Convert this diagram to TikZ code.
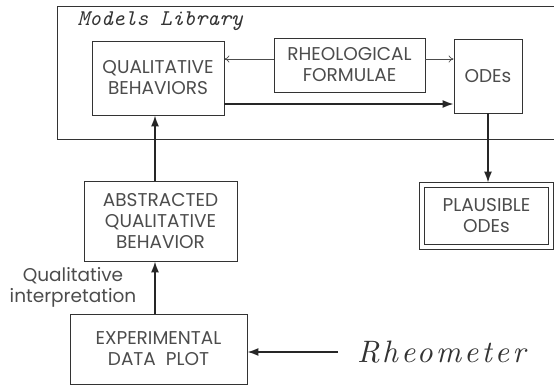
\documentclass[tikz,border=0pt]{standalone}
\usepackage{fontspec}
\newfontfamily\boxfont{Poppins}
\newfontfamily\rheofont[LetterSpace=10]{lmroman10-italic.otf}
\usetikzlibrary{arrows.meta}

\tikzset{
  box/.style={draw=black!80, line width=0.8pt, align=center, inner sep=0pt,
    text=black!70, font=\boxfont\fontsize{18.5}{21}\selectfont},
  thinarrow/.style={draw=black!70, line width=0.7pt, -{To[length=5pt,width=7pt]}},
  thickarrow/.style={draw=black!85, line width=1.6pt, -{Latex[length=11pt,width=8pt]}}
}

\begin{document}
\begin{tikzpicture}[x=1pt, y=-1pt]
  \useasboundingbox (0,0) rectangle (554,386);
  % Models library
  \draw [black!80, line width=0.8pt] (57,6) rectangle (570,139);
  \node [anchor=base west, text=black!80,
    font=\ttfamily\itshape\fontsize{22.5}{24}\selectfont] (libtitle) at (74,25) {Models Library};
  \node [box, minimum width=132, minimum height=74] (qb) at (158,78) {QUALITATIVE\\BEHAVIORS};
  \node [box, minimum width=151, minimum height=54] (rheo) at (349.5,65) {RHEOLOGICAL\\FORMULAE};
  \node [box, minimum width=68, minimum height=74] (odes) at (488,76) {ODEs};
  % outside the library
  \node [box, minimum width=124, minimum height=57] (plaus) at (486.5,216) {PLAUSIBLE\\ODEs};
  \draw [black!80, line width=0.8pt] ([shift={(-4.5pt,4.5pt)}]plaus.north west) rectangle ([shift={(4.5pt,-4.5pt)}]plaus.south east);
  \node [box, minimum width=153, minimum height=80] (abs) at (160.5,221) {ABSTRACTED\\QUALITATIVE\\BEHAVIOR};
  \node [box, minimum width=177, minimum height=70] (exp) at (158.5,349) {EXPERIMENTAL\\DATA\ \ PLOT};
  \node [align=center, text=black!70, font=\boxfont\fontsize{18.5}{21}\selectfont] (interp) at (73,287) {Qualitative\\interpretation};
  \node [anchor=west, inner sep=0pt, text=black!80,
    font=\rheofont\fontsize{31}{33}\selectfont] (rheometer) at (357,352) {Rheometer};
  \coordinate (spine) at (155,0);
  % arrows
  \draw [thinarrow] ([yshift=6pt]rheo.west) -- ([yshift=6pt]rheo.west -| qb.east);
  \draw [thinarrow] ([yshift=6pt]rheo.east) -- ([yshift=6pt]rheo.east -| odes.west);
  \draw [thickarrow] ([yshift=-26pt]qb.east) -- ([yshift=-26pt]qb.east -| odes.west);
  \draw [thickarrow] (odes.south) -- ([yshift=4.5pt]odes.south |- plaus.north);
  \draw [thickarrow] (abs.north -| spine) -- (qb.south -| spine);
  \draw [thickarrow] (exp.north -| spine) -- (abs.south -| spine);
  \draw [thickarrow] ([xshift=-19pt]rheometer.west) -- (rheometer.west -| exp.east);
\end{tikzpicture}
\end{document}
